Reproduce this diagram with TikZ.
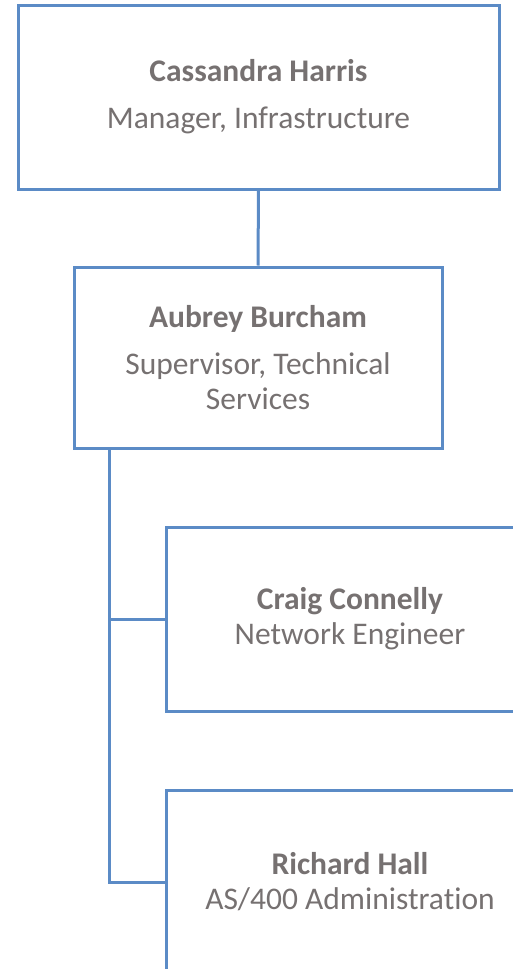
\documentclass[tikz,border=0pt]{standalone}
\usepackage{fontspec}
\setmainfont{Carlito}[RawFeature=-liga]
\definecolor{boxline}{HTML}{5B8BC6}
\definecolor{boxtext}{HTML}{767171}
\begin{document}
\begin{tikzpicture}[x=1pt,y=-1pt,
    every node/.style={text=boxtext,font=\fontsize{31.5}{35}\selectfont,align=center,inner sep=0pt},
    person/.style={draw=boxline,line width=3pt,minimum width=368pt,minimum height=182pt},
    link/.style={draw=boxline,line width=3pt}]
    \useasboundingbox (0,0) rectangle (513,969);
    \node [person,minimum width=481pt,minimum height=184pt] (mgr) at (258.5,97) {\textbf{Cassandra Harris}\\[12pt]Manager, Infrastructure};
    \node [person,minimum height=181pt] (sup) at (258,357.5) {\textbf{Aubrey Burcham}\\[12pt]Supervisor, Technical\\Services};
    \node [person,minimum height=184pt] (eng) at (350,619) {\textbf{Craig Connelly}\\Network Engineer};
    \node [person,minimum height=184pt] (adm) at (350,882) {\textbf{Richard Hall}\\AS/400 Administration};
    \coordinate (trunk) at ([xshift=37pt]sup.south west);
    \draw [link] (mgr.south) -- (sup.north);
    \draw [link] (trunk) |- (eng.west);
    \draw [link] (trunk) |- (adm.west);
\end{tikzpicture}
\end{document}
